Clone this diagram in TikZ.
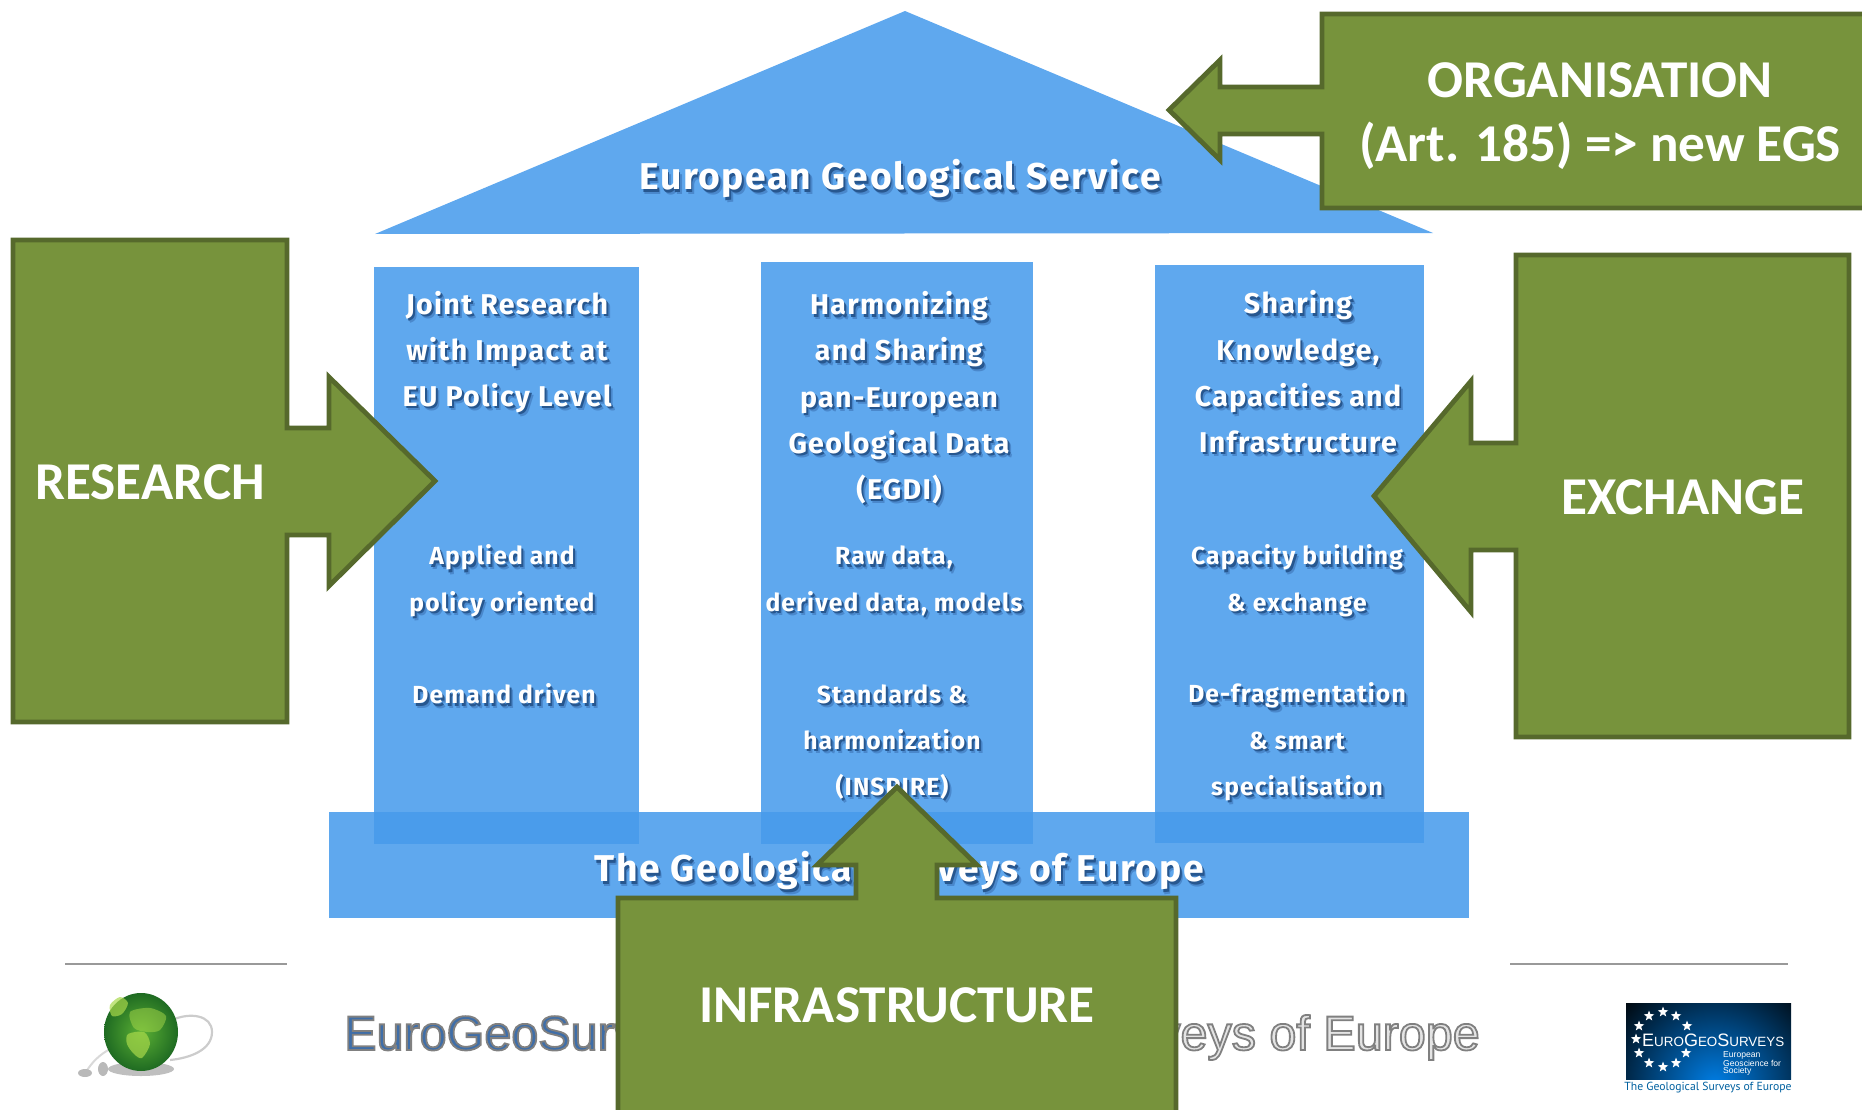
\documentclass[tikz,border=0pt]{standalone}
\usepackage{fontspec}
\usetikzlibrary{shapes.geometric}
\setmainfont{Liberation Sans}
\newfontfamily\callfont{Carlito}
\newfontfamily\pillarfont[LetterSpace=4.5]{Fira Sans}
\newfontfamily\capfont{PT Sans}
\definecolor{houseblue}{HTML}{5FA8EE}
\definecolor{basefill}{HTML}{479BEB}
\definecolor{shadowA}{HTML}{27578F}
\definecolor{shadowB}{HTML}{4A88CC}
\definecolor{callgreen}{HTML}{77933C}
\definecolor{callline}{HTML}{56692C}
\definecolor{footblue}{HTML}{3F6EA8}
\definecolor{footpale}{HTML}{E4E4E4}
\definecolor{rulegray}{HTML}{999999}
\definecolor{globeL}{HTML}{A8D84A}
\definecolor{globeM}{HTML}{5BB034}
\definecolor{globeD}{HTML}{1F6B22}
\newcommand\sh[1]{\leavevmode\rlap{\kern3.6pt\raisebox{-4.4pt}{\textcolor{shadowB}{#1}}}\rlap{\kern2pt\raisebox{-2.4pt}{\textcolor{shadowA}{#1}}}#1}
\newcommand\outl[2]{\textcolor{#1}{\special{pdf:code 2 Tr 1.8 w 0.5 0.5 0.5 RG}#2\special{pdf:code 0 Tr 1 w}}}
\tikzset{
  houseshape/.style={fill=houseblue,draw=none},
  pillarhead/.style={font=\pillarfont\bfseries\fontsize{28.6}{46.2}\selectfont,text=white,align=center,inner sep=0pt},
  pillartext/.style={font=\pillarfont\bfseries\fontsize{24.7}{46.2}\selectfont,text=white,align=center,inner sep=0pt},
  titletext/.style={font=\pillarfont\bfseries\fontsize{37.3}{42}\selectfont,text=white,align=center,inner sep=0pt},
  callshape/.style={fill=callgreen,draw=callline,line width=4.8pt,miter limit=10},
  calltext/.style={font=\callfont\bfseries\fontsize{53.2}{64.5}\selectfont,text=white,align=center,inner sep=0pt},
  footrule/.style={draw=rulegray,line width=1.8pt},
  foottext/.style={font=\fontsize{48.5}{56}\selectfont,inner sep=0pt},
  logostar/.style={star,star points=5,star point ratio=2.4,fill=white,draw=none,minimum size=11pt,inner sep=0pt},
}
\begin{document}
\begin{tikzpicture}[x=1pt,y=-1pt]
\useasboundingbox (0,0) rectangle (1862,1110);
% house
\fill[houseshape] (905,11) -- (1433,233) -- (375,234) -- cycle;
\fill[houseshape] (374,267) rectangle (639,844);
\fill[houseshape] (761,262) rectangle (1033,844);
\fill[houseshape] (1155,265) rectangle (1424,843);
\fill[basefill,fill opacity=.87] (329,812) rectangle (1469,918);
\node[titletext] (roofT) at (900,181) {\sh{European Geological Service}};
\node[pillarhead] (p1a) at (507,354) {\sh{Joint Research}\\\sh{with Impact at}\\\sh{EU Policy Level}};
\node[pillartext] (p1b) at (502,583) {\sh{Applied and}\\\sh{policy oriented}};
\node[pillartext] (p1c) at (504,696) {\sh{Demand driven}};
\node[pillarhead] (p2a) at (899,400) {\sh{Harmonizing}\\\sh{and Sharing}\\\sh{pan-European}\\\sh{Geological Data}\\\sh{(EGDI)}};
\node[pillartext] (p2b) at (894,583) {\sh{Raw data,}\\\sh{derived data, models}};
\node[pillartext] (p2c) at (892,744) {\sh{Standards \&}\\\sh{harmonization}\\\sh{(INSPIRE)}};
\node[pillarhead] (p3a) at (1298,374) {\sh{Sharing}\\\sh{Knowledge,}\\\sh{Capacities and}\\\sh{Infrastructure}};
\node[pillartext] (p3b) at (1297,583) {\sh{Capacity building}\\\sh{\& exchange}};
\node[pillartext] (p3c) at (1297,744) {\sh{De-fragmentation}\\\sh{\& smart}\\\sh{specialisation}};
\node[titletext] (baseT) at (899,873) {\sh{The Geological Surveys of Europe}};
% footer
\draw[footrule] (65,964) -- (287,964);
\draw[footrule] (1510,964) -- (1788,964);
\node[foottext,anchor=base west] (footL) at (344,1050) {\outl{footblue}{EuroGeoSurv}};
\node[foottext,anchor=base east] (footR) at (1480,1050) {\outl{footpale}{veys of Europe}};
% globe
\draw[gray!40,line width=2.2pt] (172,1020) .. controls (190,1012) and (212,1015) .. (212,1032) .. controls (212,1050) and (190,1058) .. (170,1060);
\draw[gray!30,line width=2pt] (112,1048) .. controls (100,1054) and (92,1062) .. (86,1072);
\fill[gray!50] (141,1069) ellipse (33 and 7);
\shade[inner color=globeM,outer color=globeD] (141,1032) ellipse (37 and 39);
\fill[globeL,opacity=.7] plot[smooth cycle] coordinates {(110,1005) (120,997) (128,1003) (122,1014) (112,1016)};
\fill[globeL,opacity=.5] plot[smooth cycle] coordinates {(130,1012) (150,1008) (166,1016) (160,1030) (148,1032) (134,1028)};
\fill[globeL,opacity=.7] plot[smooth cycle] coordinates {(128,1034) (144,1032) (150,1044) (142,1058) (134,1054) (127,1044)};
\fill[gray!55] (85,1073) ellipse (7 and 4);
\fill[gray!55] (103,1069) ellipse (5 and 7);
% logo
\begin{scope}
\clip (1626,1003) rectangle (1791,1079);
\fill[black] (1626,1003) rectangle (1791,1079);
\shade[inner color=cyan!55!blue!90!black,outer color=black] (1715,1085) circle (130);
\end{scope}
\foreach \n/\a/\b in {a/1649/1016,b/1663/1012,c/1676/1016,d/1687/1026,e/1639/1026,f/1636/1039,g/1639/1053,h/1686/1053,i/1649/1063,j/1663/1067,k/1676/1063}
  \node[logostar] (star\n) at (\a,\b) {};
\node[inner sep=0pt,anchor=base west,text=white,font=\fontsize{11}{12}\selectfont] (logoT) at (1642,1046) {\fontsize{18}{18}\selectfont E\fontsize{13.4}{13}\selectfont URO\fontsize{18}{18}\selectfont G\fontsize{13.4}{13}\selectfont EO\fontsize{18}{18}\selectfont S\fontsize{13.4}{13}\selectfont URVEYS};
\node[inner sep=0pt,anchor=north west,text=white,align=left,font=\fontsize{8.6}{7.8}\selectfont] (logoS) at (1723,1051) {European\\Geoscience for\\Society};
\node[inner sep=0pt,text=teal!75!blue,font=\capfont\fontsize{11.7}{12}\selectfont] (logoC) at (1708,1088) {The Geological Surveys of Europe};
% callouts
\draw[callshape] (1880,14) -- (1322,14) -- (1322,87) -- (1220,87) -- (1220,60) -- (1169,110) -- (1220,160) -- (1220,134) -- (1322,134) -- (1322,208) -- (1880,208) -- cycle;
\node[calltext] (orgT) at (1600,116) {ORGANISATION\\(Art. 185) => new EGS};
\draw[callshape] (13,240) -- (287,240) -- (287,428) -- (329,428) -- (329,377) -- (435,481) -- (329,586) -- (329,535) -- (287,535) -- (287,722) -- (13,722) -- cycle;
\node[calltext] (resT) at (150,482) {RESEARCH};
\draw[callshape] (1849,255) -- (1516,255) -- (1516,443) -- (1471,443) -- (1471,381) -- (1374,496) -- (1471,612) -- (1471,550) -- (1516,550) -- (1516,737) -- (1849,737) -- cycle;
\node[calltext] (exT) at (1683,497) {EXCHANGE};
\draw[callshape] (618,1125) -- (618,898) -- (856,898) -- (856,865) -- (817,865) -- (897,787) -- (977,865) -- (937,865) -- (937,898) -- (1176,898) -- (1176,1125) -- cycle;
\node[calltext] (infT) at (897,1005) {INFRASTRUCTURE};
\end{tikzpicture}
\end{document}
